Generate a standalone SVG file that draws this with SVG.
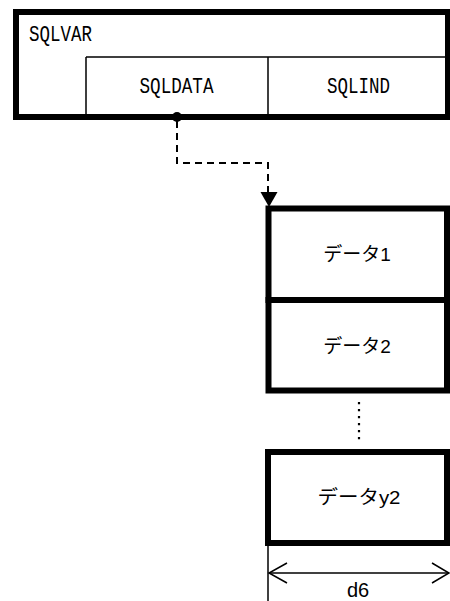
<svg xmlns="http://www.w3.org/2000/svg" width="450" height="601" viewBox="0 0 450 601">
<defs>
<style>
.thick{fill:#fff;stroke:#000;stroke-width:6}
.thin{fill:none;stroke:#000;stroke-width:1.5}
.mono{font-family:"Liberation Mono","DejaVu Sans Mono",monospace;font-size:22px;fill:#000}
.jp{font-family:"Liberation Sans","Noto Sans CJK JP",sans-serif;font-size:19px;fill:#000;text-anchor:middle}
.dash{fill:none;stroke:#000;stroke-width:2;stroke-dasharray:7 5}
</style>
</defs>
<g id="sqlvar">
<rect class="thick" x="16" y="12" width="432" height="105"/>
<path class="thin" d="M86,57 H446 M86,57 V114 M268,57 V114"/>
<text class="mono" x="29" y="40.5" textLength="63" lengthAdjust="spacingAndGlyphs">SQLVAR</text>
<text class="mono" x="139.5" y="92.5" textLength="74" lengthAdjust="spacingAndGlyphs">SQLDATA</text>
<text class="mono" x="327" y="92.5" textLength="63" lengthAdjust="spacingAndGlyphs">SQLIND</text>
</g>
<g id="connectors">
<circle cx="177" cy="117" r="5" fill="#000"/>
<path class="dash" d="M177,121 V163 H268 V195"/>
<path d="M260.5,192 L277.5,192 L269,207 Z" fill="#000"/>
<line x1="359" y1="402" x2="359" y2="442" stroke="#000" stroke-width="2.2" stroke-dasharray="2.2 4.8"/>
</g>
<g id="data1">
<rect class="thick" x="268.5" y="208.5" width="178.5" height="91.5"/>
<text class="jp" x="357" y="261">データ1</text>
</g>
<g id="data2">
<rect class="thick" x="268.5" y="300" width="178.5" height="90.5"/>
<text class="jp" x="357" y="352.5">データ2</text>
</g>
<g id="datay2">
<rect class="thick" x="268" y="452" width="179" height="91"/>
<text class="jp" x="359" y="504" textLength="83" lengthAdjust="spacingAndGlyphs">データy2</text>
</g>
<g id="dimension">
<line class="thin" x1="268" y1="546" x2="268" y2="601"/>
<line class="thin" x1="269" y1="573" x2="449" y2="573"/>
<path class="thin" d="M287,563 L269,573 L287,583 M432,563 L449,573 L432,583"/>
<text x="358" y="597" style="font-family:'Liberation Sans',sans-serif;font-size:20px;text-anchor:middle">d6</text>
</g>
</svg>
